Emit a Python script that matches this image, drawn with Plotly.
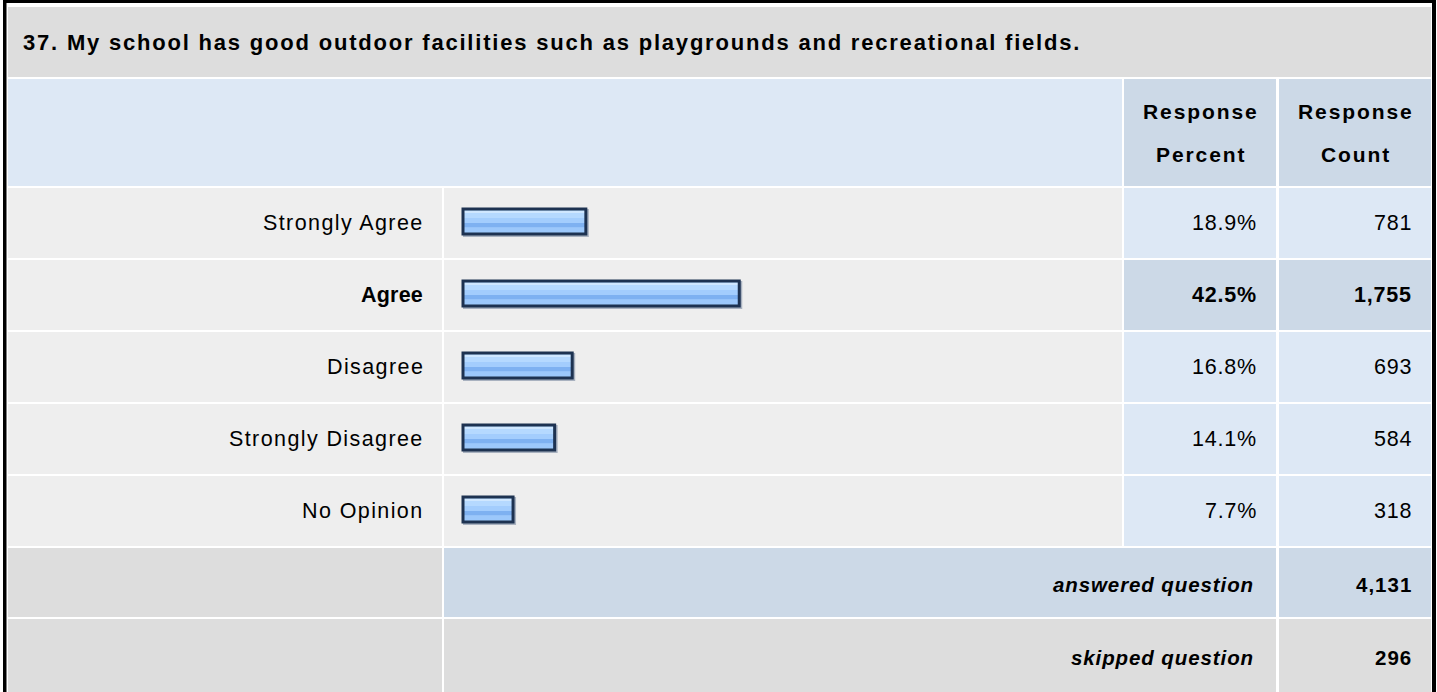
import plotly.graph_objects as go

W, H = 1437, 692

# ---- data -------------------------------------------------------------
question = "37. My school has good outdoor facilities such as playgrounds and recreational fields."
header_percent = ["Response", "Percent"]
header_count = ["Response", "Count"]
choices = ["Strongly Agree", "Agree", "Disagree", "Strongly Disagree", "No Opinion"]
percents = [18.9, 42.5, 16.8, 14.1, 7.7]
counts = [781, 1755, 693, 584, 318]
highlight = "Agree"
summary_labels = ["answered question", "skipped question"]
summary_counts = [4131, 296]

# ---- table geometry (pixels) -----------------------------------------
COL_A = (8, 442)      # answer labels
COL_B = (444, 1122)   # bars
COL_C = (1124, 1276)  # response percent
COL_D = (1279, 1431)  # response count
ROW_TITLE = (7, 77)
ROW_HEAD = (79, 186)
ROWS_TOP, ROW_PITCH = 187, 72
ROW_ANS = (548, 617)
ROW_SKIP = (619, 692)

ZERO_PX, PX_PER_PCT = 463, 6.5  # bar scale

GRAY = "#dddddd"
LIGHT = "#eeeeee"
BLUE = "#dde8f5"
BLUE_DARK = "#ccd9e7"
FONT = "Arial, Liberation Sans, sans-serif"


def px(x):
    return x / W


def py(y):
    return 1 - y / H


shapes = []


def cell(xs, ys, color):
    shapes.append(dict(type="rect", xref="paper", yref="paper",
                       x0=px(xs[0]), x1=px(xs[1]), y0=py(ys[1]), y1=py(ys[0]),
                       fillcolor=color, line=dict(width=0), layer="below"))


annotations = []


def text(t, x, y, anchor, size, bold=False, italic=False, spacing=0.0):
    if spacing:
        t = f'<span style="letter-spacing:{spacing}px">{t}</span>'
        if anchor == "right":
            x += spacing
        elif anchor == "center":
            x += spacing / 2
    annotations.append(dict(
        text=t, xref="paper", yref="paper", x=px(x), y=py(y),
        xanchor=anchor, yanchor="middle", showarrow=False,
        font=dict(family=FONT, size=size, color="#000000",
                  weight="bold" if bold else "normal",
                  style="italic" if italic else "normal"),
    ))


# outer frame
for xs, ys in [((3, 6.5), (0, H)), ((3, 1436), (0, 3)), ((1432, 1436), (0, H))]:
    cell(xs, ys, "#000000")

# title row
cell((COL_A[0], COL_D[1]), ROW_TITLE, GRAY)
text(question, 21, sum(ROW_TITLE) / 2, "left", 22, bold=True, spacing=1.8)

# header row
cell((COL_A[0], COL_B[1]), ROW_HEAD, BLUE)
cell(COL_C, ROW_HEAD, BLUE_DARK)
cell(COL_D, ROW_HEAD, BLUE_DARK)
hc = sum(ROW_HEAD) / 2
for col, lines in [(COL_C, header_percent), (COL_D, header_count)]:
    xc = sum(col) / 2
    for i, line in enumerate(lines):
        text(line, xc, hc - 21 + 43 * i, "center", 21, bold=True, spacing=1.9)

# answer rows
for i, (name, p, c) in enumerate(zip(choices, percents, counts)):
    y0 = ROWS_TOP + i * ROW_PITCH + 1
    ys = (y0, y0 + ROW_PITCH - 2)
    yc = ROWS_TOP + (i + 0.5) * ROW_PITCH
    hl = name == highlight
    cell(COL_A, ys, LIGHT)
    cell(COL_B, ys, LIGHT)
    cell(COL_C, ys, BLUE_DARK if hl else BLUE)
    cell(COL_D, ys, BLUE_DARK if hl else BLUE)
    text(name, 425, yc, "right", 21.5, bold=hl, spacing=0.2 if hl else 1.4)
    text(f"{p:.1f}%", 1258, yc, "right", 21.5, bold=hl, spacing=0.8)
    text(f"{c:,}", 1413, yc, "right", 21.5, bold=hl, spacing=0.8)

# summary rows
for (label, n), ys, col in zip(zip(summary_labels, summary_counts),
                               [ROW_ANS, ROW_SKIP], [BLUE_DARK, GRAY]):
    yc = sum(ys) / 2 + 2
    cell(COL_A, ys, GRAY)
    cell((COL_B[0], COL_C[1]), ys, col)
    cell(COL_D, ys, col)
    text(label, 1255, yc, "right", 20.5, bold=True, italic=True, spacing=0.9)
    text(f"{n:,}", 1413, yc, "right", 20.5, bold=True, spacing=1.0)

# ---- bars --------------------------------------------------------------
fig = go.Figure()
unit = 1 / ROW_PITCH               # one pixel in category units
bar_h = 25 * unit                  # stroke-centre height of a bar
bar_off = -bar_h / 2 - 1.6 * unit  # bars sit slightly above row centre

# drop shadow
fig.add_trace(go.Bar(
    y=choices, x=[p + 3 / PX_PER_PCT for p in percents], orientation="h",
    width=(bar_h + 3 * unit), offset=bar_off,
    marker=dict(color="#a9b2c0", line=dict(width=0)),
    hoverinfo="skip", showlegend=False))

# base fill
fig.add_trace(go.Bar(
    y=choices, x=percents, orientation="h", width=bar_h, offset=bar_off,
    marker=dict(color="#a3cdfb", line=dict(width=0)),
    hoverinfo="skip", showlegend=False))

# glossy bands (pixels from the top of the bar)
bands = [(1.5, 4.0, "#cfe7ff"), (4.0, 9.0, "#b5d9ff"), (9.0, 14.0, "#a3cdfd"),
         (14.0, 18.5, "#7eb1f1"), (18.5, 23.5, "#9cc8fb")]
for top, bot, color in bands:
    fig.add_trace(go.Bar(
        y=choices, x=percents, orientation="h",
        width=(bot - top) * unit, offset=bar_off + top * unit,
        marker=dict(color=color, line=dict(width=0)),
        hoverinfo="skip", showlegend=False))

# outline
fig.add_trace(go.Bar(
    y=choices, x=percents, orientation="h", width=bar_h, offset=bar_off,
    marker=dict(color="rgba(0,0,0,0)", line=dict(width=3, color="#1d3251")),
    hovertemplate="%{y}: %{x}%<extra></extra>", showlegend=False))

fig.update_layout(
    width=W, height=H,
    margin=dict(l=0, r=0, t=0, b=0),
    paper_bgcolor="#ffffff",
    plot_bgcolor="rgba(0,0,0,0)",
    barmode="overlay",
    shapes=shapes,
    annotations=annotations,
    xaxis=dict(domain=[px(COL_B[0]), px(COL_B[1])],
               range=[(COL_B[0] - ZERO_PX) / PX_PER_PCT, (COL_B[1] - ZERO_PX) / PX_PER_PCT],
               visible=False, fixedrange=True),
    yaxis=dict(domain=[py(ROWS_TOP + 5 * ROW_PITCH), py(ROWS_TOP)],
               type="category", categoryorder="array", categoryarray=choices,
               range=[len(choices) - 0.5, -0.5],
               visible=False, fixedrange=True),
)

# the page body has a default 8px margin; drop it so the table sits at the origin
fig.write_html("out.html", config={"displayModeBar": False},
               post_script="document.body.style.margin = '0';")
